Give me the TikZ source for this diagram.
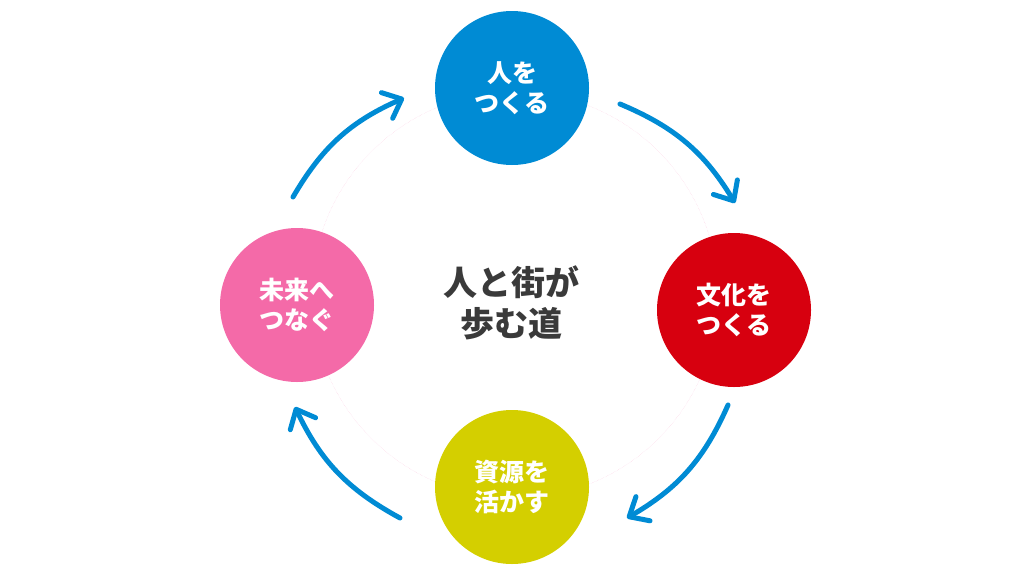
\documentclass[tikz,border=0pt]{standalone}
\usepackage{fontspec}
\setmainfont{Noto Sans CJK JP}
\usetikzlibrary{arrows.meta}

\definecolor{hitoblue}{RGB}{0,139,212}
\definecolor{bunkared}{RGB}{215,0,15}
\definecolor{shigenyellow}{RGB}{212,207,0}
\definecolor{miraipink}{RGB}{244,106,168}
\definecolor{centergray}{RGB}{58,58,58}

\begin{document}
\begin{tikzpicture}[x=1pt, y=-1pt, align=center,
  step circle/.style={circle, minimum size=154pt, inner sep=0pt, text=white,
    font=\fontsize{25pt}{30pt}\selectfont\bfseries},
  flow/.style={hitoblue, line width=5pt, line cap=round,
    -{Straight Barb[length=16pt, width=28pt, round]}},
  ring/.style={miraipink!35, line width=0.4pt, densely dotted}]

\useasboundingbox (0, 0) rectangle (1024, 576);

\coordinate (mid) at (515, 295);
\draw[ring] (mid) circle[radius=203];

\node[step circle, fill=hitoblue] (hito) at (512, 88) {人を\\つくる};
\node[step circle, fill=bunkared] (bunka) at (734, 310) {文化を\\つくる};
\node[step circle, fill=shigenyellow] (shigen) at (512, 487) {資源を\\活かす};
\node[step circle, fill=miraipink] (mirai) at (297, 305) {未来へ\\つなぐ};

\node[text=centergray, font=\fontsize{34pt}{41pt}\selectfont\bfseries] (michi) at (511, 303) {人と街が\\歩む道};

\coordinate (f1s) at (293, 197);
\coordinate (f1e) at (404, 98);
\coordinate (f2s) at (620, 104);
\coordinate (f2e) at (735, 203);
\coordinate (f3s) at (728, 405);
\coordinate (f3e) at (627, 518);
\coordinate (f4s) at (400, 518);
\coordinate (f4e) at (295, 407);

\draw[flow] (f1s) to[bend left=18] (f1e);
\draw[flow] (f2s) to[bend left=18] (f2e);
\draw[flow] (f3s) to[bend left=18] (f3e);
\draw[flow] (f4s) to[bend left=18] (f4e);

\end{tikzpicture}
\end{document}
